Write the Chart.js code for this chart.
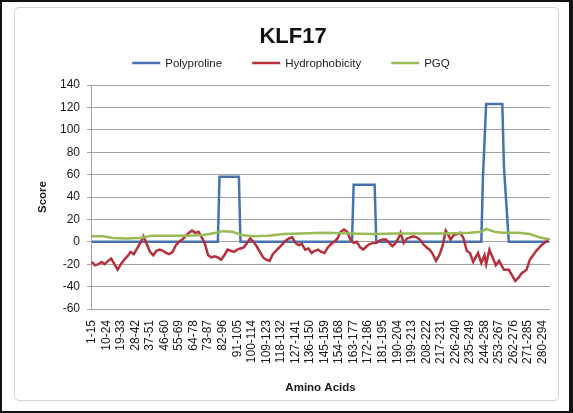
<!DOCTYPE html>
<html>
<head>
<meta charset="utf-8">
<script src="https://cdn.jsdelivr.net/npm/chart.js@4/dist/chart.umd.min.js"></script>
<style>
  html, body { margin: 0; padding: 0; background: #fff; }
  #frame {
    position: absolute; left: 0; top: 0; width: 573px; height: 413px;
    box-sizing: border-box; border: 2px solid #111; border-right-width: 4px;
  }
  #box {
    position: absolute; left: 14px; top: 7px; width: 545px; height: 394px;
    box-sizing: border-box; border: 1px solid #d4d4d4; border-radius: 5px;
  }
  #box canvas { position: absolute; left: 0; top: 0; }
</style>
</head>
<body>
<div id="frame"></div>
<div id="box"><canvas id="chart" width="543" height="392"></canvas></div>
<script>
// Window start residues that carry an axis label, and their labels
const tickStarts = [1, 10, 19, 28, 37, 46, 55, 64, 73, 82, 91, 100, 109, 118, 127, 136,
  145, 154, 163, 172, 181, 190, 199, 208, 217, 226, 235, 244, 253, 262, 271, 280];
const tickLabels = ['1-15', '10-24', '19-33', '28-42', '37-51', '46-60', '55-69', '64-78',
  '73-87', '82-96', '91-105', '100-114', '109-123', '118-132', '127-141', '136-150',
  '145-159', '154-168', '163-177', '172-186', '181-195', '190-204', '199-213', '208-222',
  '217-231', '226-240', '235-249', '244-258', '253-267', '262-276', '271-285', '280-294'];

// Polyproline score by window start
const polyPos   = [1, 79, 80, 92, 93, 162, 163, 176, 177, 242, 243, 245, 255, 256, 259, 284];
const polyScore = [0, 0, 58, 58, 0, 0, 51, 51, 0, 0, 57, 123, 123, 67, 0, 0];

// Hydrophobicity score by window start
const hydroPos = [1, 3, 5, 7, 9, 11, 13, 15, 17, 19, 21, 23, 25, 27, 29, 31, 33, 35, 37, 39,
  41, 43, 45, 47, 49, 51, 53, 55, 57, 59, 61, 63, 65, 67, 69, 71, 73, 75, 77, 79,
  81, 83, 85, 87, 89, 91, 93, 95, 97, 99, 101, 103, 105, 107, 109, 111, 113, 115, 117, 119,
  121, 123, 125, 127, 129, 131, 133, 135, 137, 139, 141, 143, 145, 147, 149, 151, 153, 155, 157, 159,
  161, 163, 165, 167, 169, 171, 173, 175, 177, 179, 181, 183, 185, 187, 189, 191, 192, 194, 196, 198,
  200, 202, 204, 206, 208, 210, 212, 214, 216, 218, 220, 222, 223, 225, 227, 229, 231, 233, 235, 237,
  240, 242, 244, 245, 247, 249, 251, 253, 256, 259, 261, 263, 265, 267, 270, 272, 274, 276, 278, 280,
  282, 284];
const hydroScore = [-18, -21, -20, -18, -20, -17, -15, -20, -25, -20, -16, -13, -9, -11, -6, -1, 5, -2, -9, -12,
  -8, -7, -8, -10, -11, -9, -3, 0, 2, 5, 8, 10, 8, 9, 4, -2, -12, -14, -13, -14,
  -16, -12, -7, -8, -9, -7, -6, -5, -1, 3, 0, -4, -9, -14, -16, -17, -11, -8, -5, -2,
  1, 3, 4, -1, -3, -2, -7, -6, -10, -8, -7, -9, -10, -5, -2, 0, 3, 9, 11, 9,
  2, -1, 0, -5, -7, -4, -2, -1, -1, 1, 2, 2, -1, -4, -1, 4, 8, -1, 3, 4,
  5, 4, 2, -2, -5, -7, -11, -17, -12, -4, 10, 5, 2, 6, 7, 8, 3, -8, -10, -18,
  -10, -19, -12, -20, -7, -14, -21, -17, -25, -25, -30, -35, -32, -28, -25, -16, -12, -8, -5, -2,
  0, 3];

// PGQ score by window start
const pgqPos   = [1, 8, 14, 22, 31, 38, 50, 60, 70, 78, 82, 88, 94, 100, 110, 120, 130, 145,
  160, 175, 190, 205, 220, 235, 242, 245, 250, 255, 265, 272, 278, 284];
const pgqScore = [5, 5, 3.5, 3, 3.5, 5.5, 5.5, 5.5, 6, 8, 9.5, 9, 6, 5, 5.5, 7, 7.5, 8,
  7.5, 7, 7.5, 7.5, 7.5, 8, 9, 11.5, 9, 8, 8, 7, 4, 2];

const pairs = (xs, ys) => xs.map((x, i) => ({ x: x, y: ys[i] }));

const FONT = "'Liberation Sans', Arial, Helvetica, sans-serif";
Chart.defaults.font.family = FONT;
Chart.defaults.color = '#1a1a1a';

// Legend drawn as a single centred row of short line samples with labels
const lineLegend = {
  id: 'lineLegend',
  afterDraw(chart, args, opts) {
    const ctx = chart.ctx;
    const sets = chart.data.datasets;
    ctx.save();
    ctx.font = opts.size + 'px ' + FONT;
    ctx.textBaseline = 'middle';
    ctx.textAlign = 'left';
    const widths = sets.map(d => opts.lineLen + opts.gap + ctx.measureText(d.label).width);
    const total = widths.reduce((a, b) => a + b, 0) + opts.spacing * (sets.length - 1);
    let x = opts.centerX - total / 2;
    sets.forEach((d, i) => {
      ctx.strokeStyle = d.borderColor;
      ctx.lineWidth = d.borderWidth;
      ctx.beginPath();
      ctx.moveTo(x, opts.y);
      ctx.lineTo(x + opts.lineLen, opts.y);
      ctx.stroke();
      ctx.fillStyle = opts.color;
      ctx.fillText(d.label, x + opts.lineLen + opts.gap, opts.y + 0.5);
      x += widths[i] + opts.spacing;
    });
    ctx.restore();
  }
};

const series = (label, xs, ys, color, order) => ({
  label: label,
  data: pairs(xs, ys),
  borderColor: color,
  backgroundColor: color,
  borderWidth: 2.5,
  pointRadius: 0,
  tension: 0,
  order: order
});

new Chart(document.getElementById('chart'), {
  type: 'line',
  data: {
    datasets: [
      series('Polyproline', polyPos, polyScore, '#4673b0', 3),
      series('Hydrophobicity', hydroPos, hydroScore, '#b5303a', 2),
      series('PGQ', pgqPos, pgqScore, '#98bb55', 1)
    ]
  },
  plugins: [lineLegend],
  options: {
    responsive: false,
    animation: false,
    layout: { padding: { top: 16, left: 21, right: 8, bottom: 4 } },
    plugins: {
      title: {
        display: true,
        text: 'KLF17',
        font: { size: 22, weight: 'bold' },
        color: '#111',
        padding: { top: 0, bottom: 34.6 }
      },
      legend: { display: false },
      lineLegend: { centerX: 276, y: 55, size: 11.5, lineLen: 28, gap: 5, spacing: 30, color: '#222' },
      tooltip: { enabled: false }
    },
    scales: {
      x: {
        type: 'linear',
        min: 0.5,
        max: 284.5,
        afterBuildTicks: (axis) => { axis.ticks = tickStarts.map(v => ({ value: v })); },
        afterFit: (axis) => { axis.height = 87; },
        grid: { display: false, drawTicks: true, tickLength: 11 },
        border: { display: false },
        ticks: {
          autoSkip: false,
          minRotation: 90,
          maxRotation: 90,
          padding: 0,
          font: { size: 12 },
          callback: (value) => tickLabels[tickStarts.indexOf(value)]
        },
        title: {
          display: true,
          text: 'Amino Acids',
          font: { size: 11.5, weight: 'bold' },
          padding: { top: 0, bottom: 1 }
        }
      },
      y: {
        min: -60,
        max: 140,
        afterFit: (axis) => { axis.width = 55; },
        grid: { color: '#a4a4a4', lineWidth: 1, tickLength: 4 },
        border: { color: '#a4a4a4' },
        ticks: { stepSize: 20, padding: 7, font: { size: 12 } },
        title: {
          display: true,
          text: 'Score',
          font: { size: 11.5, weight: 'bold' },
          padding: 0
        }
      }
    }
  }
});
</script>
</body>
</html>
